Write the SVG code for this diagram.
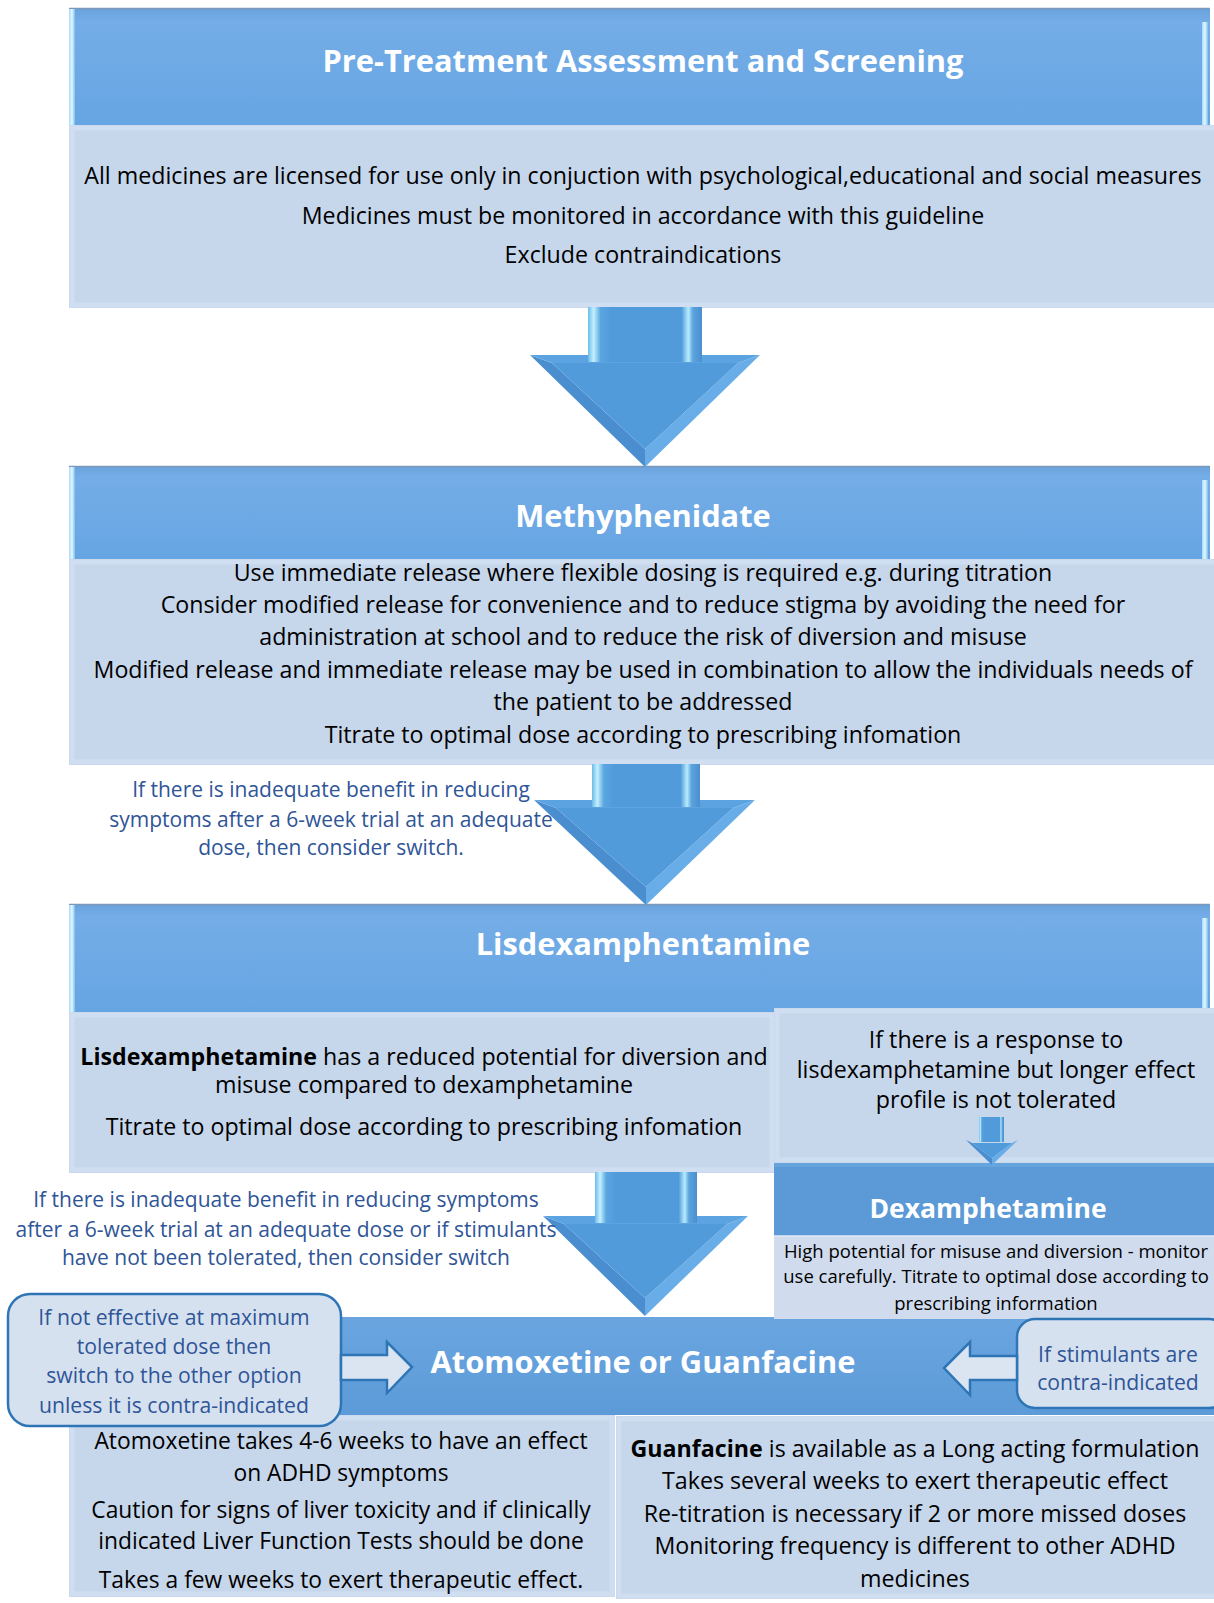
<svg xmlns="http://www.w3.org/2000/svg" width="1214" height="1603" viewBox="0 0 1214 1603">
<style>
text{font-family:"Open Sans","Liberation Sans",sans-serif;text-anchor:middle}
.t{font-weight:700;fill:#fff;font-size:30.8px}
.td{font-weight:700;fill:#fff;font-size:26.5px}
.b{fill:#000;font-size:23.2px}
.bs{fill:#000;font-size:22.8px}
.n{fill:#2f5597;font-size:21px}
.nb{fill:#2f5597;font-size:21.2px}
.d{fill:#000;font-size:18.5px}
.hdr{fill:url(#hdrG)}
.body{fill:#c6d6eb}
.bev{fill:none;stroke:#d3e1f3;stroke-width:5;opacity:0.7}
.edge{fill:url(#edgeG)}
.hollow{fill:#dbe5f2;stroke:#2e75b6;stroke-width:2.5;stroke-linejoin:miter}
.note{fill:#d6e1f0;stroke:#2e75b6;stroke-width:2.5}
.shaft{fill:url(#shaftG)}
.headL{fill:#4a8ecf}
.headR{fill:#68ade8}
.headT{fill:#5ba3e1}
.headI{fill:#519bdb}
</style>
<defs>
<linearGradient id="hdrG" x1="0" y1="0" x2="0" y2="1">
<stop offset="0" stop-color="#6aa2dc"/>
<stop offset="0.12" stop-color="#74ade7"/>
<stop offset="1" stop-color="#66a5e3"/>
</linearGradient>
<linearGradient id="hdrD" x1="0" y1="0" x2="0" y2="1">
<stop offset="0" stop-color="#6aa5e0"/>
<stop offset="1" stop-color="#5c9bd8"/>
</linearGradient>
<linearGradient id="edgeG" x1="0" y1="0" x2="1" y2="0">
<stop offset="0" stop-color="#a6dcf7"/>
<stop offset="0.5" stop-color="#e2f7ff"/>
<stop offset="1" stop-color="#7fbde8"/>
</linearGradient>
<linearGradient id="shaftG" x1="0" y1="0" x2="1" y2="0">
<stop offset="0" stop-color="#6bbbe8"/>
<stop offset="0.05" stop-color="#c4f0ff"/>
<stop offset="0.11" stop-color="#5aa6e0"/>
<stop offset="0.2" stop-color="#519bdb"/>
<stop offset="0.82" stop-color="#519bdb"/>
<stop offset="0.88" stop-color="#b7ecff"/>
<stop offset="0.92" stop-color="#5ba4dd"/>
<stop offset="1" stop-color="#4a8ecf"/>
</linearGradient>
</defs>

<!-- Node 1 -->
<g id="pre-treatment">
<rect x="69" y="8" width="1141" height="117" class="hdr"/>
<line x1="69" y1="8.5" x2="1210" y2="8.5" stroke="#7d98b8" stroke-width="1.5"/>
<rect x="69" y="9" width="6" height="116" class="edge"/>
<rect x="1202" y="22" width="6" height="103" class="edge"/>
<rect x="69" y="125" width="1145" height="183" class="body"/>
<rect x="72" y="128" width="1145" height="177" class="bev"/>
<text class="t" x="643" y="72">Pre-Treatment Assessment and Screening</text>
<text class="b" x="643" y="184">All medicines are licensed for use only in conjuction with psychological,educational and social measures</text>
<text class="b" x="643" y="224">Medicines must be monitored in accordance with this guideline</text>
<text class="b" x="643" y="263">Exclude contraindications</text>
</g>

<!-- Node 2 -->
<g id="methylphenidate">
<rect x="69" y="466" width="1141" height="93" class="hdr"/>
<line x1="69" y1="466.5" x2="1210" y2="466.5" stroke="#7d98b8" stroke-width="1.5"/>
<rect x="69" y="467" width="6" height="92" class="edge"/>
<rect x="1202" y="480" width="6" height="79" class="edge"/>
<rect x="69" y="559" width="1145" height="206" class="body"/>
<rect x="72" y="562" width="1145" height="200" class="bev"/>
<text class="t" x="643" y="527">Methyphenidate</text>
<text class="b" x="643" y="581">Use immediate release where flexible dosing is required e.g. during titration</text>
<text class="b" x="643" y="613">Consider modified release for convenience and to reduce stigma by avoiding the need for</text>
<text class="b" x="643" y="645">administration at school and to reduce the risk of diversion and misuse</text>
<text class="b" x="643" y="678">Modified release and immediate release may be used in combination to allow the individuals needs of</text>
<text class="b" x="643" y="710">the patient to be addressed</text>
<text class="b" x="643" y="743">Titrate to optimal dose according to prescribing infomation</text>
</g>

<!-- Node 3 -->
<g id="lisdexamfetamine">
<rect x="69" y="904" width="1141" height="108" class="hdr"/>
<line x1="69" y1="904.5" x2="1210" y2="904.5" stroke="#7d98b8" stroke-width="1.5"/>
<rect x="69" y="905" width="6" height="107" class="edge"/>
<rect x="1202" y="918" width="6" height="94" class="edge"/>
<rect x="69" y="1012" width="706" height="161" class="body"/>
<rect x="72" y="1015" width="700" height="155" class="bev"/>
<text class="t" x="643" y="955">Lisdexamphentamine</text>
<text class="b" x="424" y="1065"><tspan font-weight="700">Lisdexamphetamine</tspan> has a reduced potential for diversion and</text>
<text class="b" x="424" y="1093">misuse compared to dexamphetamine</text>
<text class="b" x="424" y="1135">Titrate to optimal dose according to prescribing infomation</text>
</g>

<g id="response-note">
<rect x="774" y="1008" width="440" height="155" class="body"/>
<rect x="777" y="1011" width="440" height="149" class="bev"/>
<text class="b" x="996" y="1048">If there is a response to</text>
<text class="b" x="996" y="1078">lisdexamphetamine but longer effect</text>
<text class="b" x="996" y="1108">profile is not tolerated</text>
</g>

<!-- Atomoxetine / Guanfacine -->
<g id="atomoxetine-guanfacine">
<rect x="69" y="1317" width="1145" height="98" fill="url(#hdrD)"/>
<text class="t" x="643" y="1373">Atomoxetine or Guanfacine</text>
</g>

<g id="dexamfetamine">
<rect x="774" y="1163" width="440" height="73" fill="#5b9ad6"/>
<rect x="774" y="1163" width="440" height="4" fill="#66a4de"/>
<rect x="774" y="1236" width="440" height="83" fill="#d0dcee"/>
<line x1="774" y1="1236" x2="1214" y2="1236" stroke="#e2ebf6" stroke-width="1.5"/>
<text class="td" x="988" y="1218">Dexamphetamine</text>
<text class="d" x="996" y="1258">High potential for misuse and diversion - monitor</text>
<text class="d" x="996" y="1283">use carefully. Titrate to optimal dose according to</text>
<text class="d" x="996" y="1310">prescribing information</text>
</g>

<g id="atomoxetine-info">
<rect x="69" y="1415" width="546" height="182" class="body"/>
<rect x="72" y="1418" width="540" height="176" class="bev"/>
<text class="bs" x="341" y="1449">Atomoxetine takes 4-6 weeks to have an effect</text>
<text class="bs" x="341" y="1481">on ADHD symptoms</text>
<text class="bs" x="341" y="1518">Caution for signs of liver toxicity and if clinically</text>
<text class="bs" x="341" y="1549">indicated Liver Function Tests should be  done</text>
<text class="bs" x="341" y="1588">Takes a few weeks to exert therapeutic effect.</text>
</g>

<g id="guanfacine-info">
<rect x="616" y="1416" width="598" height="183" class="body"/>
<rect x="619" y="1419" width="598" height="177" class="bev"/>
<text class="b" x="915" y="1457"><tspan font-weight="700">Guanfacine</tspan> is available as a Long acting formulation</text>
<text class="b" x="915" y="1489">Takes several weeks to exert therapeutic effect</text>
<text class="b" x="915" y="1522">Re-titration is necessary if 2 or more missed doses</text>
<text class="b" x="915" y="1554">Monitoring frequency is different to other ADHD</text>
<text class="b" x="915" y="1587">medicines</text>
</g>

<g id="switch-note">
<rect x="8" y="1294" width="333" height="132" rx="22" class="note"/>
<text class="nb" x="174" y="1325">If not effective at maximum</text>
<text class="nb" x="174" y="1354">tolerated dose then</text>
<text class="nb" x="174" y="1383">switch to the other option</text>
<text class="nb" x="174" y="1413">unless it is contra-indicated</text>
</g>

<g id="contra-note">
<rect x="1017" y="1319" width="210" height="89" rx="18" class="note"/>
<text class="nb" x="1118" y="1362">If stimulants are</text>
<text class="nb" x="1118" y="1390">contra-indicated</text>
</g>

<!-- Connectors -->
<g id="connectors">
<g id="arrow1">
<polygon class="headL" points="530,355 645,467 645,449 552,363"/>
<polygon class="headR" points="760,355 645,467 645,449 738,363"/>
<polygon class="headT" points="530,355 760,355 738,363 552,363"/>
<polygon class="headI" points="552,363 738,363 645,449"/>
<rect x="588" y="307" width="114" height="55" class="shaft"/>
</g>
<g id="arrow2">
<polygon class="headL" points="534,800 646,905 646,887 556,808"/>
<polygon class="headR" points="755,800 646,905 646,887 733,808"/>
<polygon class="headT" points="534,800 755,800 733,808 556,808"/>
<polygon class="headI" points="556,808 733,808 646,887"/>
<rect x="592" y="764" width="108" height="43" class="shaft"/>
</g>
<g id="arrow3">
<polygon class="headL" points="543,1216 645,1316 645,1298 564,1224"/>
<polygon class="headR" points="748,1216 645,1316 645,1298 727,1224"/>
<polygon class="headT" points="543,1216 748,1216 727,1224 564,1224"/>
<polygon class="headI" points="564,1224 727,1224 645,1298"/>
<rect x="595" y="1172" width="102" height="51" class="shaft"/>
</g>
<g id="arrow-small">
<polygon class="headL" points="966,1140 992,1165 992,1158 972,1143"/>
<polygon class="headR" points="1018,1140 992,1165 992,1158 1012,1143"/>
<polygon class="headI" points="972,1143 1012,1143 992,1158"/>
<rect x="979" y="1117" width="25" height="25" class="shaft"/>
</g>
<polygon id="arrow-right" class="hollow" points="341,1355 387,1355 387,1342 412,1367 387,1393 387,1380 341,1380"/>
<polygon id="arrow-left" class="hollow" points="1017,1356 970,1356 970,1342 944,1368 970,1395 970,1380 1017,1380"/>
<text class="n" x="331" y="797">If there is inadequate benefit in reducing</text>
<text class="n" x="331" y="827">symptoms after a 6-week trial at an adequate</text>
<text class="n" x="331" y="855">dose, then consider switch.</text>
<text class="n" x="286" y="1207">If there is inadequate benefit in reducing symptoms</text>
<text class="n" x="286" y="1237">after a 6-week trial at an adequate dose or if stimulants</text>
<text class="n" x="286" y="1265">have not been tolerated, then consider switch</text>
</g>
</svg>
